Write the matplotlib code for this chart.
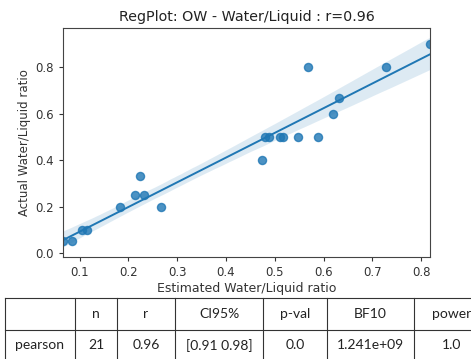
import numpy as np
import matplotlib
matplotlib.use('Agg')
import matplotlib.pyplot as plt
import seaborn as sns
from matplotlib.lines import Line2D

# estimated vs actual water/liquid ratio
estimated = [0.066, 0.084, 0.105, 0.115, 0.182, 0.266, 0.214, 0.231, 0.223,
             0.474, 0.480, 0.488, 0.510, 0.516, 0.547, 0.588, 0.619, 0.632,
             0.569, 0.728, 0.818]
actual = [0.05, 0.05, 0.1, 0.1, 0.2, 0.2, 0.25, 0.25, 0.333,
          0.4, 0.5, 0.5, 0.5, 0.5, 0.5, 0.5, 0.6, 0.667,
          0.8, 0.8, 0.9]

title = 'RegPlot: OW - Water/Liquid : r=0.96'

# pingouin style correlation table
table_header = ['', 'n', 'r', 'CI95%', 'p-val', 'BF10', 'power']
table_row = ['pearson', '21', '0.96', '[0.91 0.98]', '0.0', '1.241e+09', '1.0']

W, H = 471, 359
fig = plt.figure(figsize=(W / 100, H / 100), dpi=100)
ax = fig.add_axes([63 / W, 1 - 257 / H, (430 - 63) / W, (257 - 28) / H])

sns.regplot(x=np.array(estimated), y=np.array(actual), ax=ax, ci=95, seed=3,
            color='#1f77b4', scatter_kws={'s': 34}, line_kws={'lw': 1.4})
ax.set_xlim(min(estimated), max(estimated))
ax.set_ylim(-0.017, 0.97)
ax.set_xticks([0.1, 0.2, 0.3, 0.4, 0.5, 0.6, 0.7, 0.8])
ax.set_yticks([0.0, 0.2, 0.4, 0.6, 0.8])
ax.tick_params(labelsize=8.5, colors='#333333', length=3)
for s in ax.spines.values():
    s.set_color('#444444')
ax.set_title(title, fontsize=10.3, color='#222222', pad=5)
ax.set_xlabel('Estimated Water/Liquid ratio', fontsize=9, color='#333333', labelpad=2)
ax.set_ylabel('Actual Water/Liquid ratio', fontsize=8.5, color='#333333', labelpad=3)

# table drawn under the chart
col_edges = [5, 75, 117, 175, 263, 327, 414, 490]
row_edges = [298, 329.5, 361]


def fx(px):
    return px / W


def fy(py):
    return 1 - py / H


for xe in col_edges[:-1]:
    fig.add_artist(Line2D([fx(xe), fx(xe)], [fy(row_edges[0]), fy(row_edges[-1])],
                          color='#333333', lw=0.8))
for ye in row_edges:
    fig.add_artist(Line2D([fx(col_edges[0]), 1.0], [fy(ye), fy(ye)],
                          color='#333333', lw=0.8))

for r, cells in enumerate([table_header, table_row]):
    yc = (row_edges[r] + row_edges[r + 1]) / 2
    for c, txt in enumerate(cells):
        xc = (col_edges[c] + col_edges[c + 1]) / 2
        fig.text(fx(xc), fy(yc), txt, ha='center', va='center',
                 fontsize=10, family=['Lato', 'DejaVu Sans'], color='#222222')

fig.savefig('out.png', dpi=100)
